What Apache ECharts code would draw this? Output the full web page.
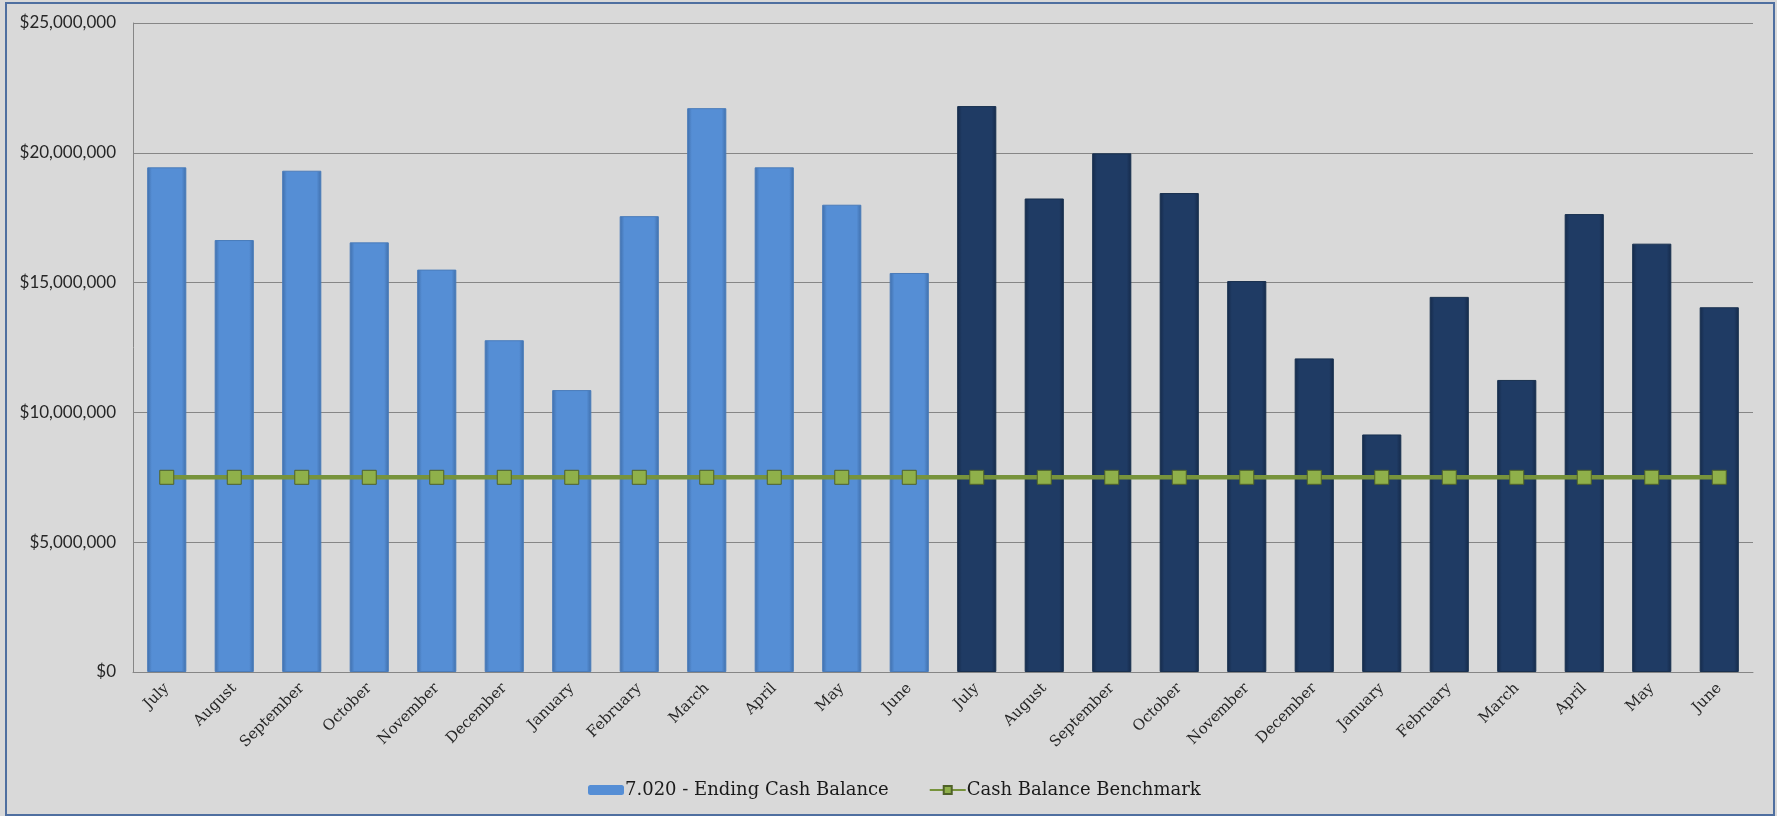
<!DOCTYPE html>
<html><head><meta charset="utf-8">
<script src="https://cdn.jsdelivr.net/npm/echarts@6/dist/echarts.min.js"></script>
<style>html,body{margin:0;padding:0;background:#D9D9D9;}#c{width:1777px;height:816px;}</style>
</head><body><div id="c"></div>
<script>
const categories = ["July","August","September","October","November","December","January","February","March","April","May","June",
  "July","August","September","October","November","December","January","February","March","April","May","June"];
const cashBalance = [19.44,16.64,19.31,16.55,15.5,12.78,10.86,17.56,21.72,19.44,18.0,15.37,
  21.8,18.24,19.98,18.45,15.06,12.08,9.15,14.45,11.25,17.64,16.5,14.05].map(v=>Math.round(v*1e6));
const benchmark = [7.5,7.5,7.5,7.5,7.5,7.5,7.5,7.5,7.5,7.5,7.5,7.5,7.5,7.5,7.5,7.5,7.5,7.5,7.5,7.5,7.5,7.5,7.5,7.5].map(v=>v*1e6);
const yTicks = [0,5000000,10000000,15000000,20000000,25000000];

function grad(c1,c2){return {type:'linear',x:0,y:0,x2:1,y2:0,colorStops:[{offset:0,color:c2},{offset:0.12,color:c1},{offset:0.88,color:c1},{offset:1,color:c2}]};}
const light = grad('#558ED5','#3F6EAA');
const dark = grad('#1F3B64','#152A4A');

const chart = echarts.init(document.getElementById('c'));
chart.setOption({
  backgroundColor:'#D9D9D9',
  animation:false,
  graphic:[{type:'rect',shape:{x:6,y:3,width:1768,height:812},style:{fill:'none',stroke:'#4F6FA0',lineWidth:2},silent:true}],
  grid:{left:133,right:24,top:23,bottom:144},
  legend:{
    left:583,top:776,itemGap:40,itemWidth:36,itemHeight:10,
    textStyle:{fontFamily:'DejaVu Serif',fontSize:18,color:'#1a1a1a',padding:[0,0,0,-4]},
    data:[{name:'7.020 - Ending Cash Balance',itemStyle:{color:'#558ED5'}},{name:'Cash Balance Benchmark'}]
  },
  xAxis:{type:'category',data:categories,
    axisLine:{lineStyle:{color:'#868686'}},axisTick:{show:false},
    axisLabel:{rotate:45,interval:0,fontFamily:'DejaVu Serif',fontSize:15,color:'#262626',margin:14}},
  yAxis:{type:'value',min:0,max:25000000,interval:5000000,
    axisLine:{show:true,lineStyle:{color:'#868686'}},
    splitLine:{lineStyle:{color:'#868686',width:1}},
    axisLabel:{fontFamily:'Lato',fontSize:17,color:'#262626',margin:17,
      formatter:v=>'$'+v.toLocaleString('en-US')}},
  series:[
    {name:'7.020 - Ending Cash Balance',type:'bar',barCategoryGap:'42%',
      data:cashBalance.map((v,i)=>({value:v,itemStyle:{color:i<12?light:dark,borderColor:i<12?'#4A7CBA':'#18304F',borderWidth:1}}))},
    {name:'Cash Balance Benchmark',type:'line',data:benchmark,
      lineStyle:{color:'#77933C',width:4.5},
      symbol:'rect',symbolSize:14,
      itemStyle:{color:'#8FB04A',borderColor:'#4F6228',borderWidth:1}}
  ]
});
</script></body></html>
